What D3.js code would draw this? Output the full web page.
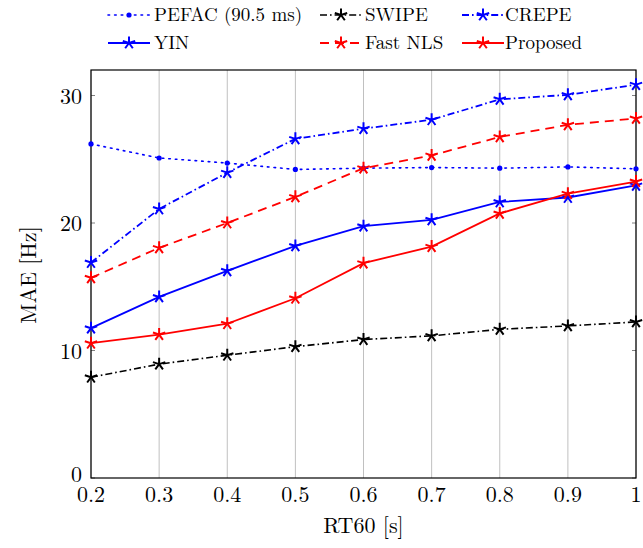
<!DOCTYPE html>
<html>
<head>
<meta charset="utf-8">
<script src="https://cdn.jsdelivr.net/npm/d3@7"></script>
<style>
  html, body { margin: 0; padding: 0; background: #fff; }
  svg { display: block; }
</style>
</head>
<body>
<svg id="chart" width="643" height="548"></svg>
<script>
const rt60 = [0.2, 0.3, 0.4, 0.5, 0.6, 0.7, 0.8, 0.9, 1.0];
const pefac    = [26.2, 25.1, 24.7, 24.2, 24.3, 24.35, 24.3, 24.4, 24.25];
const swipe    = [7.9, 8.93, 9.63, 10.3, 10.86, 11.15, 11.66, 11.93, 12.24];
const crepe    = [16.9, 21.1, 23.95, 26.6, 27.4, 28.1, 29.7, 30.05, 30.85];
const yin      = [11.75, 14.2, 16.25, 18.2, 19.75, 20.25, 21.65, 22.0, 22.95];
const fastNLS  = [15.7, 18.05, 20.0, 22.05, 24.3, 25.3, 26.75, 27.7, 28.2];
const proposed = [10.57, 11.25, 12.1, 14.1, 16.85, 18.15, 20.75, 22.3, 23.25];
const xTicks = [0.2, 0.3, 0.4, 0.5, 0.6, 0.7, 0.8, 0.9, 1];
const yTicks = [0, 10, 20, 30];
const xLabel = "RT60 [s]";
const yLabel = "MAE [Hz]";

const series = [
  {name: "PEFAC (90.5 ms)", values: pefac, color: "#0000ff", dash: "1.6,5", marker: "dot", width: 1.6},
  {name: "SWIPE", values: swipe, color: "#000000", dash: "7,3,1.6,3", marker: "star", width: 1.6},
  {name: "CREPE", values: crepe, color: "#0000ff", dash: "7,3,1.6,3", marker: "star", width: 1.8},
  {name: "YIN", values: yin, color: "#0000ff", dash: null, marker: "star", width: 1.8},
  {name: "Fast NLS", values: fastNLS, color: "#ff0000", dash: "9,6", marker: "star", width: 1.8},
  {name: "Proposed", values: proposed, color: "#ff0000", dash: null, marker: "star", width: 1.8}
];

const FONT = "'Latin Modern Roman', 'Liberation Serif', serif";
const svg = d3.select("#chart").attr("font-family", FONT);
const L = 91, R = 636, T = 70, B = 478;
const x = d3.scaleLinear().domain([0.2, 1]).range([L, R]);
const y = d3.scaleLinear().domain([0, 32]).range([B, T]);

// grid
svg.append("g").selectAll("line").data(xTicks).join("line")
  .attr("x1", d => x(d)).attr("x2", d => x(d))
  .attr("y1", T).attr("y2", B)
  .attr("stroke", "#c0c0c0").attr("stroke-width", 1);

// y ticks inside left and right
const yt = svg.append("g");
yTicks.forEach(v => {
  yt.append("line").attr("x1", L).attr("x2", L + 4).attr("y1", y(v)).attr("y2", y(v)).attr("stroke", "#808080");
  yt.append("line").attr("x1", R - 4).attr("x2", R).attr("y1", y(v)).attr("y2", y(v)).attr("stroke", "#808080");
  yt.append("text").attr("x", L - 9).attr("y", y(v) + (v === 0 ? 4 : 8)).attr("text-anchor", "end")
    .attr("font-family", FONT).attr("font-size", 22).text(v);
});
xTicks.forEach(v => {
  svg.append("text").attr("x", x(v)).attr("y", B + 24).attr("text-anchor", "middle")
    .attr("font-family", FONT).attr("font-size", 22).text(d3.format("")(v));
});

// frame
svg.append("rect").attr("x", L).attr("y", T).attr("width", R - L).attr("height", B - T)
  .attr("fill", "none").attr("stroke", "#000").attr("stroke-width", 1.2);

// axis labels
svg.append("text").attr("x", x(0.6)).attr("y", 533).attr("text-anchor", "middle")
  .attr("font-family", FONT).attr("font-size", 22).text(xLabel);
svg.append("text").attr("transform", `translate(36,275) rotate(-90)`)
  .attr("text-anchor", "middle").attr("font-family", FONT).attr("font-size", 22).text(yLabel);

function starPath(cx, cy, r) {
  let p = "";
  for (let i = 0; i < 5; i++) {
    const a = -Math.PI / 2 + i * 2 * Math.PI / 5;
    p += `M${cx},${cy}L${cx + r * Math.cos(a)},${cy + r * Math.sin(a)}`;
  }
  return p;
}
function drawMarker(g, s, cx, cy) {
  if (s.marker === "dot") {
    g.append("circle").attr("cx", cx).attr("cy", cy).attr("r", 2.6).attr("fill", s.color);
  } else {
    g.append("path").attr("d", starPath(cx, cy, 6.5)).attr("stroke", s.color)
      .attr("stroke-width", 2).attr("fill", "none");
  }
}

const line = d3.line().x((d, i) => x(rt60[i])).y(d => y(d));
const plot = svg.append("g");
series.forEach(s => {
  plot.append("path").datum(s.values).attr("d", line)
    .attr("fill", "none").attr("stroke", s.color).attr("stroke-width", s.width)
    .attr("stroke-dasharray", s.dash).attr("stroke-linecap", s.marker === "dot" ? "round" : "butt");
  const mg = plot.append("g");
  s.values.forEach((v, i) => drawMarker(mg, s, x(rt60[i]), y(v)));
});

// legend
const legPos = [
  {sx: 108, tx: 154, y: 15}, {sx: 320, tx: 365, y: 15}, {sx: 462, tx: 505, y: 15},
  {sx: 108, tx: 154, y: 43}, {sx: 320, tx: 365, y: 43}, {sx: 462, tx: 505, y: 43}
];
const leg = svg.append("g");
series.forEach((s, i) => {
  const p = legPos[i];
  const w = 42;
  leg.append("line").attr("x1", p.sx).attr("x2", p.sx + w).attr("y1", p.y).attr("y2", p.y)
    .attr("stroke", s.color).attr("stroke-width", s.width).attr("stroke-dasharray", s.dash)
    .attr("stroke-linecap", s.marker === "dot" ? "round" : "butt");
  drawMarker(leg, s, p.sx + w / 2, p.y);
  leg.append("text").attr("x", p.tx).attr("y", p.y + 6).attr("font-family", FONT)
    .attr("font-size", 19).text(s.name);
});
</script>
</body>
</html>
